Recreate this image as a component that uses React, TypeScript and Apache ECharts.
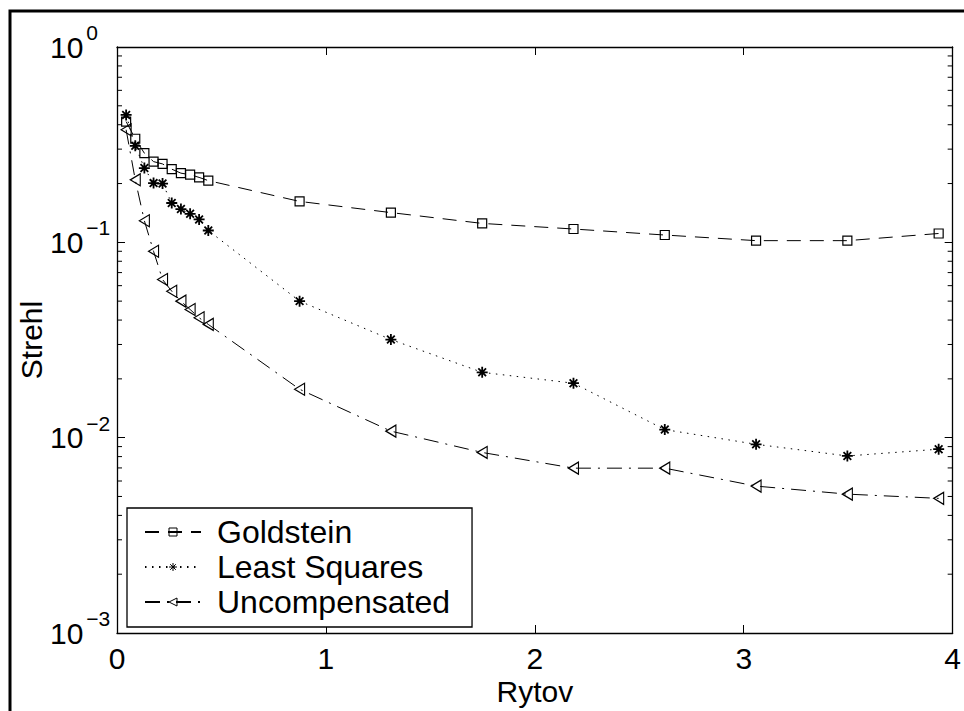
import React, { useEffect, useRef } from "react";
import * as echarts from "echarts";

// Rytov number of each run
const X_VALUES = [
  0.0437, 0.0874, 0.131, 0.175, 0.218, 0.262, 0.306, 0.35, 0.393, 0.437,
  0.874, 1.311, 1.748, 2.185, 2.622, 3.059, 3.496, 3.933,
];

// Strehl ratio per reconstructor
const GOLDSTEIN = [
  0.415, 0.339, 0.286, 0.259, 0.252, 0.237, 0.226, 0.222, 0.215, 0.207,
  0.162, 0.142, 0.125, 0.117, 0.109, 0.102, 0.102, 0.111,
];
const LEAST_SQUARES = [
  0.449, 0.312, 0.24, 0.201, 0.2, 0.159, 0.148, 0.14, 0.131, 0.115,
  0.05, 0.0318, 0.0216, 0.019, 0.011, 0.00925, 0.00806, 0.00873,
];
const UNCOMPENSATED = [
  0.377, 0.209, 0.129, 0.09, 0.0645, 0.0562, 0.05, 0.0453, 0.0411, 0.038,
  0.0177, 0.0108, 0.0084, 0.00698, 0.00698, 0.00565, 0.00514, 0.00489,
];

const SERIES_NAMES = ["Goldstein", "Least Squares", "Uncompensated"];

// Axis ticks
const X_TICKS = [0, 1, 2, 3, 4];
const Y_DECADES = [-3, -2, -1, 0];
const MINOR_MANTISSAS = [2, 3, 4, 5, 6, 7, 8, 9];

const FONT = "'Liberation Sans', Arial, Helvetica, sans-serif";

const STAR_PATH =
  "path://M5,0 L5,10 M0,5 L10,5 M1.5,1.5 L8.5,8.5 M8.5,1.5 L1.5,8.5";
const TRIANGLE_LEFT_PATH = "path://M0,6 L10,0 L10,12 Z";

function pairs(ys: number[]) {
  return X_VALUES.map((x, i) => [x, ys[i]]);
}

function supLabel(value: number) {
  const exp = Math.round(Math.log10(value));
  const e = exp === 0 ? "0" : "\u2212" + String(-exp);
  return `{b|10}{e|${e}}`;
}

export default function App() {
  const ref = useRef<HTMLDivElement>(null);

  useEffect(() => {
    if (!ref.current) return;
    const chart = echarts.init(ref.current, undefined, { renderer: "svg" });

    const minorTicks: number[][] = [];
    Y_DECADES.slice(0, -1).forEach((d) => {
      MINOR_MANTISSAS.forEach((m) => minorTicks.push([0, m * Math.pow(10, d)]));
    });

    const axisLine = { show: true, onZero: false, lineStyle: { color: "#000", width: 1.3 } };
    const tick = { show: true, inside: true, length: 8, lineStyle: { color: "#000", width: 1 } };

    const option: any = {
      animation: false,
      backgroundColor: "#fff",
      graphic: [
        {
          type: "rect",
          shape: { x: 10, y: 11, width: 1000, height: 800 },
          style: { fill: "none", stroke: "#000", lineWidth: 3 },
          silent: true,
        },
      ],
      grid: { left: 117, top: 47, width: 838, height: 588 },
      legend: {
        data: SERIES_NAMES,
        orient: "vertical",
        left: 127,
        top: 508,
        padding: [8, 22, 9, 17],
        itemWidth: 56,
        itemHeight: 10,
        itemGap: 3,
        borderColor: "#000",
        borderWidth: 1.3,
        backgroundColor: "#fff",
        selectedMode: false,
        itemStyle: { borderWidth: 1 },
        textStyle: { fontSize: 32, color: "#000", fontFamily: FONT, padding: [0, 0, 0, 11] },
      },
      xAxis: [
        {
          type: "value",
          position: "bottom",
          min: X_TICKS[0],
          max: X_TICKS[X_TICKS.length - 1],
          interval: 1,
          axisLine,
          axisTick: tick,
          splitLine: { show: false },
          axisLabel: { color: "#000", fontSize: 30, fontFamily: FONT, margin: 10 },
          name: "Rytov",
          nameLocation: "middle",
          nameGap: 43,
          nameMoveOverlap: false,
          nameTextStyle: { color: "#000", fontSize: 30, fontFamily: FONT },
        },
        {
          type: "value",
          position: "top",
          min: X_TICKS[0],
          max: X_TICKS[X_TICKS.length - 1],
          interval: 1,
          axisLine,
          axisTick: tick,
          splitLine: { show: false },
          axisLabel: { show: false },
        },
      ],
      yAxis: [
        {
          type: "log",
          logBase: 10,
          position: "left",
          min: Math.pow(10, Y_DECADES[0]),
          max: Math.pow(10, Y_DECADES[Y_DECADES.length - 1]),
          axisLine,
          axisTick: tick,
          splitLine: { show: false },
          axisLabel: {
            margin: 67,
            align: "left",
            formatter: supLabel,
            rich: {
              b: { fontSize: 30, lineHeight: 30, color: "#000", fontFamily: FONT, verticalAlign: "middle" },
              e: {
                fontSize: 21,
                lineHeight: 50,
                color: "#000",
                fontFamily: FONT,
                verticalAlign: "top",
                padding: [0, 0, 0, 3],
              },
            },
          },
          name: "Strehl",
          nameLocation: "middle",
          nameGap: 71,
          nameMoveOverlap: false,
          nameTextStyle: { color: "#000", fontSize: 30, fontFamily: FONT },
        },
        {
          type: "log",
          logBase: 10,
          position: "right",
          min: Math.pow(10, Y_DECADES[0]),
          max: Math.pow(10, Y_DECADES[Y_DECADES.length - 1]),
          axisLine,
          axisTick: tick,
          splitLine: { show: false },
          axisLabel: { show: false },
        },
      ],
      series: [
        {
          name: "Goldstein",
          type: "line",
          data: pairs(GOLDSTEIN),
          symbol: "rect",
          symbolSize: 9,
          itemStyle: { color: "transparent", borderColor: "#000", borderWidth: 1.2 },
          lineStyle: { color: "#000", width: 1, type: [14, 9] },
          z: 3,
        },
        {
          name: "Least Squares",
          type: "line",
          data: pairs(LEAST_SQUARES),
          symbol: STAR_PATH,
          symbolSize: 11,
          itemStyle: { color: "transparent", borderColor: "#000", borderWidth: 1.8 },
          lineStyle: { color: "#000", width: 1, type: [1.5, 5.5] },
          z: 3,
        },
        {
          name: "Uncompensated",
          type: "line",
          data: pairs(UNCOMPENSATED),
          symbol: TRIANGLE_LEFT_PATH,
          symbolSize: [10, 12],
          itemStyle: { color: "transparent", borderColor: "#000", borderWidth: 1.2 },
          lineStyle: { color: "#000", width: 1, type: [15, 7, 2, 7] },
          z: 3,
        },
        {
          name: "minorTicks",
          type: "custom",
          data: minorTicks,
          silent: true,
          z: 5,
          renderItem: (params: any, api: any) => {
            const y = api.coord([0, api.value(1)])[1];
            const cs = params.coordSys;
            const style = { stroke: "#000", lineWidth: 1, fill: "none" };
            return {
              type: "group",
              children: [
                { type: "line", shape: { x1: cs.x, y1: y, x2: cs.x + 5, y2: y }, style },
                {
                  type: "line",
                  shape: { x1: cs.x + cs.width, y1: y, x2: cs.x + cs.width - 5, y2: y },
                  style,
                },
              ],
            };
          },
        },
      ],
    };

    chart.setOption(option);
    return () => chart.dispose();
  }, []);

  return (
    <div
      ref={ref}
      style={{ position: "absolute", left: 0, top: 0, width: 964, height: 711 }}
    />
  );
}
